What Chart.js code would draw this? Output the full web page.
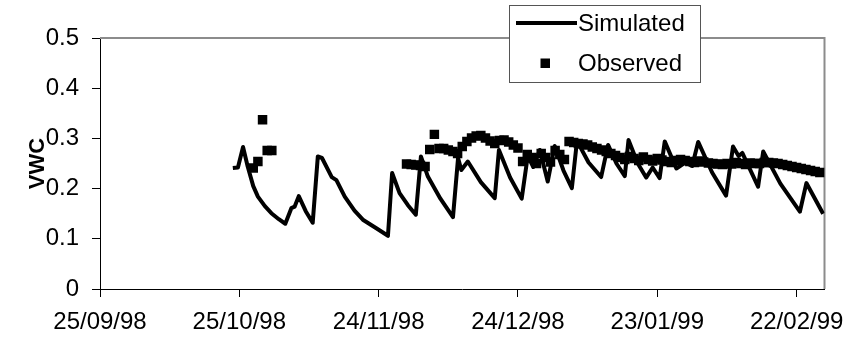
<!DOCTYPE html>
<html>
<head>
<meta charset="utf-8">
<script src="https://cdn.jsdelivr.net/npm/chart.js@4.4.1/dist/chart.umd.min.js"></script>
<style>
  html, body { margin: 0; padding: 0; background: #fff; }
  #wrap { width: 848px; height: 342px; }
</style>
</head>
<body>
<div id="wrap"><canvas id="vwcChart"></canvas></div>
<script>
// x values are days counted from 25/09/98
const tickDays = [0, 30, 60, 90, 120, 150];
const tickLabels = ['25/09/98', '25/10/98', '24/11/98', '24/12/98', '23/01/99', '22/02/99'];

const simDays = [28.6, 29.7, 30.8, 31.8, 33.0, 34.0, 35.5, 36.9, 38.5, 39.9,
  41.2, 41.9, 42.8, 44.3, 45.8, 46.9, 47.8, 49.9, 50.9, 52.7,
  54.8, 56.6, 59.5, 62.0, 62.9, 64.5, 66.3, 68.0, 69.1, 70.6,
  73.3, 76.0, 77.1, 77.8, 79.2, 82.0, 85.0, 85.9, 88.3, 90.8,
  92.1, 93.3, 94.7, 96.4, 97.9, 99.8, 101.6, 102.7, 105.2, 107.9,
  109.4, 111.2, 113.0, 113.8, 115.8, 117.6, 119.0, 120.5, 121.6, 124.1,
  126.0, 127.5, 128.8, 131.8, 134.8, 136.3, 137.5, 138.3, 141.7, 142.8,
  146.5, 150.7, 152.1, 155.7];
const simVwc = [0.241, 0.242, 0.283, 0.244, 0.205, 0.184, 0.165, 0.151, 0.139, 0.130,
  0.161, 0.164, 0.185, 0.155, 0.132, 0.264, 0.261, 0.223, 0.217, 0.184,
  0.156, 0.138, 0.121, 0.106, 0.231, 0.191, 0.167, 0.148, 0.264, 0.224,
  0.180, 0.143, 0.261, 0.237, 0.254, 0.213, 0.181, 0.277, 0.222, 0.180,
  0.265, 0.243, 0.277, 0.214, 0.285, 0.236, 0.201, 0.295, 0.252, 0.223,
  0.287, 0.250, 0.225, 0.297, 0.250, 0.222, 0.242, 0.221, 0.294, 0.240,
  0.252, 0.245, 0.293, 0.232, 0.186, 0.284, 0.265, 0.271, 0.204, 0.274,
  0.210, 0.154, 0.211, 0.150];

const obsDays = [33, 34, 35, 36, 37,
  66, 67, 68, 69, 70, 71, 72, 73, 74, 75, 76, 77, 78, 79, 80,
  81, 82, 83, 84, 85, 86, 87, 88, 89, 90, 91, 92, 93, 94, 95,
  96, 97, 98, 99, 100, 101, 102, 103, 104, 105, 106, 107, 108, 109, 110,
  111, 112, 113, 114, 115, 116, 117, 118, 119, 120, 121, 122, 123, 124, 125,
  126, 127, 128, 129, 130, 131, 132, 133, 134, 135, 136, 137, 138, 139, 140,
  141, 142, 143, 144, 145, 146, 147, 148, 149, 150, 151, 152, 153, 154, 155];
const obsVwc = [0.241, 0.254, 0.337, 0.276, 0.276,
  0.249, 0.248, 0.247, 0.246, 0.244, 0.278, 0.308, 0.280, 0.280, 0.277, 0.274, 0.270, 0.284, 0.294, 0.301,
  0.305, 0.306, 0.301, 0.295, 0.290, 0.296, 0.297, 0.293, 0.287, 0.281, 0.254, 0.268, 0.262, 0.250, 0.270,
  0.262, 0.253, 0.276, 0.268, 0.258, 0.294, 0.292, 0.290, 0.289, 0.287, 0.283, 0.280, 0.277, 0.274, 0.270,
  0.266, 0.262, 0.258, 0.264, 0.260, 0.256, 0.263, 0.258, 0.255, 0.260, 0.257, 0.254, 0.252, 0.256, 0.258,
  0.256, 0.254, 0.252, 0.255, 0.253, 0.251, 0.250, 0.249, 0.248, 0.250, 0.249, 0.252, 0.250, 0.248, 0.251,
  0.250, 0.250, 0.252, 0.252, 0.251, 0.250, 0.248, 0.246, 0.244, 0.242, 0.240, 0.238, 0.236, 0.234, 0.232];

const font = "'Liberation Sans', Arial, sans-serif";

// grey frame on top and right of the plot, axis title, legend box over the top edge
const framePlugin = {
  id: 'frame',
  beforeDatasetsDraw(chart) {
    const { ctx, chartArea: a } = chart;
    ctx.save();
    ctx.strokeStyle = '#8c8c8c';
    ctx.lineWidth = 2;
    ctx.beginPath();
    ctx.moveTo(a.left, a.top);
    ctx.lineTo(a.right, a.top);
    ctx.lineTo(a.right, a.bottom);
    ctx.stroke();
    ctx.restore();
  },
  afterDraw(chart) {
    const { ctx, chartArea: a } = chart;
    ctx.save();
    ctx.translate(38, (a.top + a.bottom) / 2);
    ctx.rotate(-Math.PI / 2);
    ctx.font = 'bold 22px ' + font;
    ctx.fillStyle = '#000';
    ctx.textAlign = 'center';
    ctx.textBaseline = 'middle';
    ctx.fillText('VWC', 0, 0);
    ctx.restore();

    ctx.save();
    ctx.fillStyle = '#fff';
    ctx.fillRect(509.5, 5.5, 191, 77);
    ctx.strokeStyle = '#555';
    ctx.lineWidth = 1;
    ctx.strokeRect(509.5, 5.5, 191, 77);

    ctx.strokeStyle = '#000';
    ctx.lineWidth = 4;
    ctx.beginPath();
    ctx.moveTo(516, 23);
    ctx.lineTo(577, 23);
    ctx.stroke();
    ctx.fillStyle = '#000';
    ctx.fillRect(540.5, 58.5, 9.5, 9.5);

    ctx.font = '24px ' + font;
    ctx.textBaseline = 'middle';
    ctx.textAlign = 'left';
    ctx.fillText('Simulated', 578, 24);
    ctx.fillText('Observed', 578, 64);
    ctx.restore();
  }
};

new Chart('vwcChart', {
  data: {
    datasets: [
      {
        type: 'line',
        label: 'Simulated',
        data: simDays.map((d, i) => ({ x: d, y: simVwc[i] })),
        borderColor: '#000',
        borderWidth: 4,
        borderJoinStyle: 'round',
        pointRadius: 0,
        tension: 0,
        order: 2
      },
      {
        type: 'scatter',
        label: 'Observed',
        data: obsDays.map((d, i) => ({ x: d, y: obsVwc[i] })),
        pointStyle: 'rect',
        pointRadius: 6.7,
        backgroundColor: '#000',
        borderWidth: 0,
        order: 1
      }
    ]
  },
  options: {
    responsive: true,
    maintainAspectRatio: false,
    animation: false,
    layout: { padding: { left: 0, top: 38, right: 23.5, bottom: 0 } },
    plugins: { legend: { display: false }, tooltip: { enabled: false } },
    scales: {
      x: {
        type: 'linear',
        min: 0,
        max: 156,
        afterBuildTicks: (scale) => { scale.ticks = tickDays.map(v => ({ value: v })); },
        afterFit: (scale) => {
          scale.height = 53;
          scale.paddingLeft = 0;
          scale.paddingRight = 0;
        },
        grid: { drawOnChartArea: false, tickLength: 8, color: '#000' },
        border: { color: '#000', width: 1 },
        ticks: {
          color: '#000',
          font: { family: font, size: 24 },
          padding: 11,
          maxRotation: 0,
          autoSkip: false,
          callback: (v) => tickLabels[tickDays.indexOf(v)]
        }
      },
      y: {
        min: 0,
        max: 0.5,
        afterFit: (scale) => {
          scale.width = 100;
          scale.paddingTop = 0;
          scale.paddingBottom = 0;
        },
        grid: { drawOnChartArea: false, tickLength: 8, color: '#000' },
        border: { color: '#000', width: 1 },
        ticks: {
          stepSize: 0.1,
          color: '#000',
          font: { family: font, size: 24 },
          padding: 13,
          callback: (v) => Math.round(v * 10) / 10
        }
      }
    }
  },
  plugins: [framePlugin]
});
</script>
</body>
</html>
